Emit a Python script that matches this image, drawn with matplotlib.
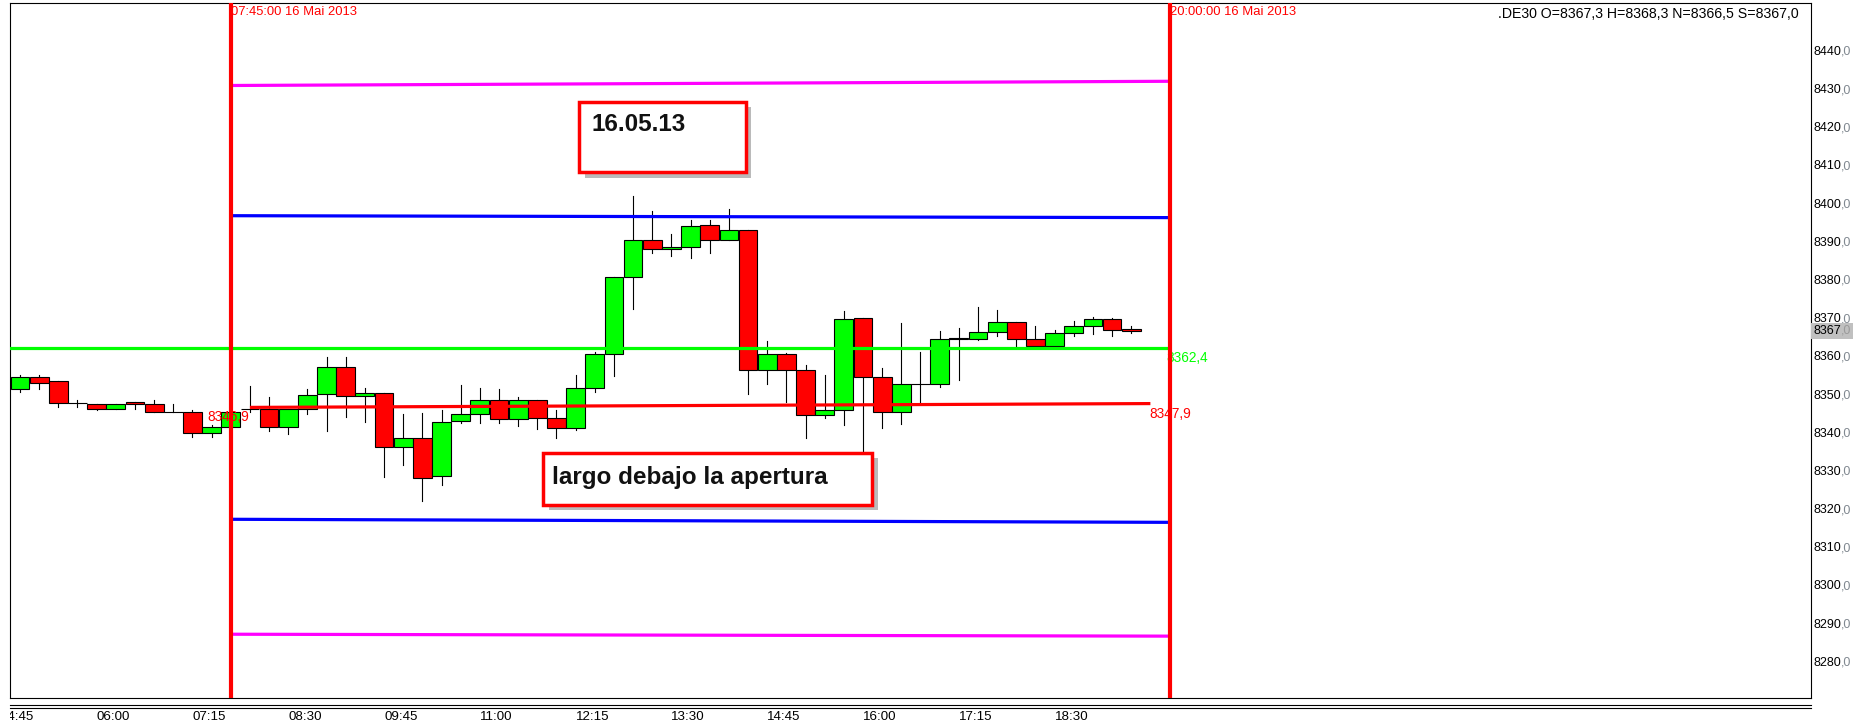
import matplotlib
matplotlib.use('Agg')
import matplotlib.pyplot as plt
import matplotlib.patheffects as pe
from matplotlib.patches import Rectangle
from matplotlib.lines import Line2D
from matplotlib.transforms import Bbox, blended_transform_factory

plt.rcParams['font.family'] = ['Liberation Sans', 'DejaVu Sans']

# 15 minute candles of .DE30, first candle 05:00
opens = [8351.6, 8354.8, 8353.7, 8348.1, 8347.7, 8346.6, 8348.2, 8347.7, 8345.6, 8345.6,
         8340.1, 8341.7, 8346.6, 8346.6, 8341.7, 8346.6, 8350.3, 8357.4, 8349.8, 8350.6,
         8336.6, 8338.8, 8329.0, 8343.3, 8345.3, 8348.8, 8343.8, 8348.8, 8344.2, 8341.4,
         8352.1, 8360.8, 8381.0, 8390.8, 8388.4, 8388.9, 8394.7, 8390.8, 8393.4, 8356.6,
         8360.8, 8356.6, 8344.8, 8346.1, 8370.3, 8354.9, 8345.7, 8353.0, 8353.0, 8364.8,
         8364.8, 8366.6, 8369.2, 8364.8, 8362.9, 8366.3, 8368.3, 8370.0, 8367.3]
highs = [8355.4, 8355.4, 8353.7, 8348.8, 8347.7, 8347.7, 8348.2, 8348.8, 8347.9, 8346.1,
         8342.3, 8346.2, 8352.5, 8349.6, 8346.6, 8351.6, 8360.1, 8360.1, 8352.0, 8350.6,
         8345.2, 8345.5, 8346.1, 8352.8, 8351.9, 8351.6, 8349.6, 8348.8, 8346.1, 8355.3,
         8361.5, 8381.0, 8402.2, 8398.2, 8392.2, 8395.9, 8395.9, 8398.9, 8393.4, 8364.3,
         8361.2, 8358.0, 8355.4, 8372.2, 8370.3, 8357.2, 8369.0, 8361.3, 8367.0, 8367.7,
         8373.1, 8372.5, 8369.2, 8368.3, 8367.2, 8369.6, 8370.6, 8370.3, 8368.3]
lows = [8351.0, 8351.6, 8347.1, 8347.1, 8346.1, 8346.6, 8346.6, 8345.6, 8345.6, 8339.2,
        8339.2, 8341.5, 8345.8, 8340.6, 8340.0, 8345.1, 8340.6, 8344.5, 8343.1, 8328.7,
        8331.8, 8322.4, 8326.6, 8342.9, 8342.9, 8342.9, 8342.0, 8341.3, 8338.9, 8340.9,
        8351.0, 8355.1, 8372.7, 8387.3, 8386.5, 8386.1, 8387.3, 8390.8, 8350.3, 8352.9,
        8348.4, 8338.9, 8344.2, 8342.4, 8326.0, 8341.6, 8342.6, 8347.7, 8352.3, 8354.0,
        8364.5, 8365.5, 8362.9, 8362.6, 8362.6, 8365.7, 8366.1, 8365.7, 8366.5]
closes = [8354.8, 8353.2, 8348.1, 8348.1, 8346.6, 8347.7, 8347.7, 8345.6, 8345.6, 8340.1,
          8341.7, 8345.6, 8346.6, 8341.7, 8346.6, 8350.1, 8357.4, 8349.8, 8350.6, 8336.6,
          8338.8, 8328.3, 8343.2, 8345.3, 8348.8, 8343.8, 8348.8, 8344.2, 8341.6, 8352.1,
          8360.8, 8381.0, 8390.8, 8388.4, 8388.9, 8394.5, 8390.8, 8393.4, 8356.6, 8360.8,
          8356.6, 8344.8, 8346.1, 8370.0, 8354.9, 8345.7, 8353.0, 8353.0, 8364.8, 8365.0,
          8366.6, 8369.2, 8364.8, 8362.9, 8366.3, 8368.3, 8370.0, 8367.1, 8367.0]

# time labels every 5 candles (index -1 = 04:45)
time_ticks = list(range(-1, 55, 5))
time_labels = ['04:45', '06:00', '07:15', '08:30', '09:45', '11:00',
               '12:15', '13:30', '14:45', '16:00', '17:15', '18:30']

price_ticks = list(range(8280, 8441, 10))
last_price = 8367.0

# session markers
session_idx = [11, 60]
session_labels = ['07:45:00 16 Mai 2013', '20:00:00 16 Mai 2013']

# level lines (value at start, value at end)
magenta_hi = [8431.2, 8432.3]
blue_hi = [8397.1, 8396.6]
green_level = 8362.4
red_level = [8346.9, 8347.9]
blue_lo = [8317.6, 8316.8]
magenta_lo = [8287.5, 8287.0]

header = '.DE30 O=8367,3 H=8368,3 N=8366,5 S=8367,0'
notes = ['16.05.13', 'largo debajo la apertura']

W, H = 1857, 726
fig = plt.figure(figsize=(W / 100, H / 100), dpi=100)
ax = fig.add_axes([10 / W, 28 / H, 1801 / W, 695 / H])
ax.set_xlim(-0.522, 93.48)
ax.set_ylim(8270.8, 8452.8)
ax.set_xticks([])
ax.set_yticks([])
for s in ax.spines.values():
    s.set_linewidth(0.8)
    s.set_color('black')

GREEN = '#00ff00'
RED = '#ff0000'

# candles
for i, (o, h, l, c) in enumerate(zip(opens, highs, lows, closes)):
    ax.plot([i, i], [l, h], color='black', lw=0.8, zorder=2)
    col = GREEN if c >= o else RED
    ax.add_patch(Rectangle((i - 0.49, min(o, c)), 0.98, abs(c - o),
                           fc=col, ec='black', lw=0.8, zorder=3))

# level lines
s0, s1 = session_idx
ax.plot([s0, s1], magenta_hi, color='#ff00ff', lw=2.3, zorder=4, solid_capstyle='butt')
ax.plot([s0, s1], blue_hi, color='#0000ff', lw=2.3, zorder=4, solid_capstyle='butt')
ax.plot([s0, s1], blue_lo, color='#0000ff', lw=2.3, zorder=4, solid_capstyle='butt')
ax.plot([s0, s1], magenta_lo, color='#ff00ff', lw=2.3, zorder=4, solid_capstyle='butt')
ax.plot([-1, s1], [green_level, green_level], color=GREEN, lw=2.3, zorder=4, solid_capstyle='butt')
ax.plot([s0 + 1, s1 - 1], red_level, color=RED, lw=2.3, zorder=4, solid_capstyle='butt')

lbl = dict(fontsize=9.8, textcoords='offset pixels', va='top', zorder=5, annotation_clip=False)
ax.annotate(f'{red_level[0]:.1f}'.replace('.', ','), xy=(s0 + 1, red_level[0]),
            xytext=(-1, -3), ha='right', color=RED, **lbl)
ax.annotate(f'{red_level[1]:.1f}'.replace('.', ','), xy=(s1 - 1, red_level[1]),
            xytext=(-1, -3), ha='left', color=RED, **lbl)
ax.annotate(f'{green_level:.1f}'.replace('.', ','), xy=(s1, green_level),
            xytext=(-3, -3), ha='left', color=GREEN, **lbl)

# session verticals
for idx, txt in zip(session_idx, session_labels):
    ax.axvline(idx, color=RED, lw=3.0, zorder=6)
    ax.annotate(txt, xy=(idx, 1), xycoords=('data', 'axes fraction'), xytext=(0, -3),
                textcoords='offset pixels', ha='left', va='top', fontsize=9.4, color=RED,
                zorder=7, annotation_clip=False)

ax.annotate(header, xy=(0.9933, 1), xycoords='axes fraction', xytext=(0, -4),
            textcoords='offset pixels', ha='right', va='top', fontsize=10.2, color='black')

# note boxes
def note(x0, x1, y0, y1, text, tx, ty):
    ax.add_patch(Rectangle((x0, y0), x1 - x0, y1 - y0, fc='white', ec=RED, lw=2.5, zorder=8,
                           path_effects=[pe.withSimplePatchShadow(offset=(4, -4),
                                                                  shadow_rgbFace='#777777',
                                                                  alpha=0.5)]))
    ax.text(tx, ty, text, fontsize=17.5, fontweight='bold', color='#111111',
            ha='left', va='baseline', zorder=9)

note(29.18, 37.89, 8408.5, 8426.9, notes[0], 29.85, 8419.3)
note(27.30, 44.47, 8321.4, 8335.0, notes[1], 27.77, 8326.9)

# price axis labels: integer part black, decimals grey
def price_label(p, dec_color, z=3, bg=None):
    num = ax.annotate(f'{p:.0f}', xy=(1, p), xycoords=('axes fraction', 'data'),
                      xytext=(2, 0), textcoords='offset pixels', ha='left', va='center',
                      fontsize=9, color='black', zorder=z + 1, annotation_clip=False)
    ax.annotate(',0', xy=(1, 0.5), xycoords=num, ha='left', va='center', fontsize=9,
                color=dec_color, zorder=z + 1, annotation_clip=False)
    if bg is not None:
        ax.annotate(f'{p:.0f},0', xy=(1, p), xycoords=('axes fraction', 'data'),
                    xytext=(2, 0), textcoords='offset pixels', ha='left', va='center',
                    fontsize=9, color=bg, zorder=z, annotation_clip=False,
                    bbox=dict(boxstyle='square,pad=0.15', fc=bg, ec='none'))

for p in price_ticks:
    price_label(p, '#808890')
price_label(last_price, '#9a9a9a', z=10, bg='#c0c0c0')

# double separator line under the chart
for yy in (705, 708):
    fig.add_artist(Line2D([10 / W, 1811 / W], [1 - yy / H] * 2, transform=fig.transFigure,
                          color='black', lw=0.8))

# time axis labels
tr = blended_transform_factory(ax.transData, fig.transFigure)
clip = Bbox.from_extents(10, 0, W, H)
for i, t in zip(time_ticks, time_labels):
    tx = ax.text(i, 1 - 717 / H, t, transform=tr, ha='left', va='center', fontsize=9.6,
                 color='black')
    tx.set_clip_box(clip)
    tx.set_clip_on(True)

fig.savefig('out.png', dpi=100)
